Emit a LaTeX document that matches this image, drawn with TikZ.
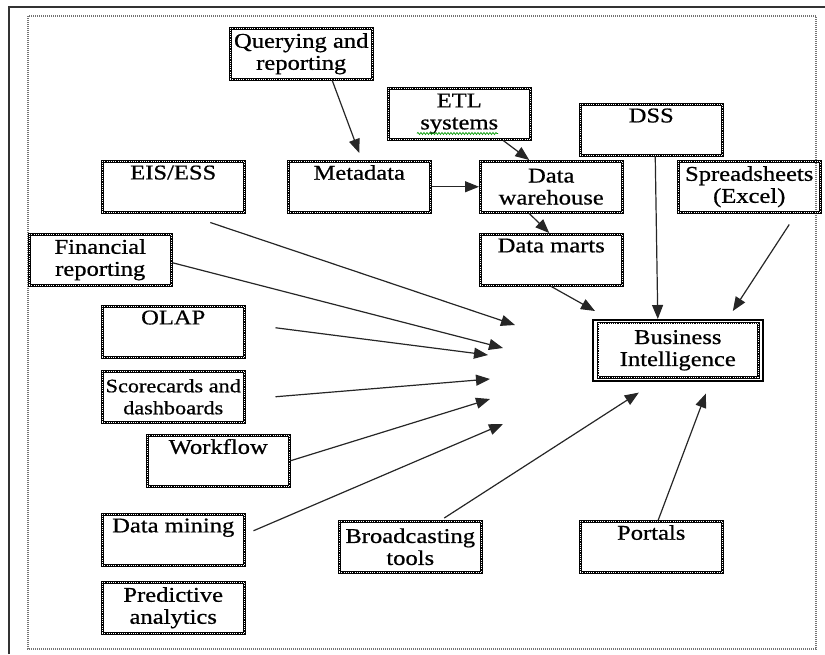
\documentclass[tikz,border=0pt]{standalone}
\usepackage{fontspec}
\setmainfont{Liberation Serif}[FakeStretch=1.17,FakeBold=0.7]
\usetikzlibrary{arrows.meta,decorations.pathmorphing}
\begin{document}
\begin{tikzpicture}[x=1pt,y=-1pt,
  box/.style={draw=black, line width=2.5pt, minimum width=142pt, minimum height=51pt,
    inner sep=0pt, anchor=north west, align=center, text=black,
    font=\fontsize{21}{22}\selectfont,
    postaction={draw=white, line width=0.5pt, dash pattern=on 0.6pt off 1.6pt}},
  arr/.style={-{Triangle[length=14pt,width=11pt]}, line width=1.2pt, draw=black!85},
  frameline/.style={line width=2pt, draw=black!80},
  dotframe/.style={line width=1.2pt, draw=black!55, dash pattern=on 1pt off 1pt},
  squiggle/.style={draw=green!60!black, line width=0.7pt, decorate,
    decoration={snake, amplitude=1pt, segment length=3pt}}]
\useasboundingbox (0,0) rectangle (825,654);
% frames
\draw[frameline] (9,654) -- (9,7) -- (825,7);
\draw[dotframe] (28,16) rectangle (816,649);

% nodes
\node[box] (qr)   at (229,27)  {Querying and\\reporting};
\node[box] (eis)  at (101,160) {EIS/ESS\\\strut};
\node[box] (meta) at (287,160) {Metadata\\\strut};
\node[box] (etl)  at (387,87)  {ETL\\systems};
\node[box] (dw)   at (479,160) {Data\\warehouse};
\node[box] (dm)   at (479,233) {Data marts\\\strut};
\node[box] (dss)  at (579,103) {DSS\\\strut};
\node[box] (ss)   at (677,160) {Spreadsheets\\(Excel)};
\node[box] (fin)  at (28,233)  {Financial\\reporting};
\node[box] (olap) at (101,305) {OLAP\\\strut};
\node[box, font=\fontsize{19}{22}\selectfont] (sc) at (101,370) {Scorecards and\\dashboards};
\node[box] (wf)   at (146,434) {Workflow\\\strut};
\node[box] (mine) at (101,513) {Data mining\\\strut};
\node[box] (pred) at (101,581) {Predictive\\analytics};
\node[box] (bc)   at (338,520) {Broadcasting\\tools};
\node[box] (por)  at (579,520) {Portals\\\strut};
\node[draw=black, line width=1.6pt, minimum width=170pt, minimum height=61pt,
      inner sep=0pt, anchor=north west, align=center,
      font=\fontsize{21}{22}\selectfont] (bi) at (592,319) {Business\\Intelligence};
\draw[line width=2.5pt, postaction={draw=white, line width=0.5pt, dash pattern=on 0.6pt off 1.6pt}]
  ([shift={(6,4)}]bi.north west) rectangle ([shift={(-5,-4)}]bi.south east);

% spell-check squiggle
\draw[squiggle] ([shift={(30,-7)}]etl.south west) -- ([shift={(111,-7)}]etl.south west);

% fan-in end points
\coordinate (f1) at (515,325);
\coordinate (f2) at (503,348);
\coordinate (f3) at (488,355);
\coordinate (f4) at (490,379);
\coordinate (f5) at (490,399);
\coordinate (f6) at (503,424);

% connectors
\draw[arr] ([xshift=31pt]qr.south) -- ([yshift=7pt]meta.north);
\draw[arr] (meta) -- (dw);
\draw[arr] ([xshift=44pt]etl.south) -- ([xshift=-22pt]dw.north);
\draw[arr] ([xshift=-22pt]dw.south) -- ([xshift=-2pt]dm.north);
\draw[arr] (dm.south) -- ([shift={(3pt,8pt)}]bi.north west);
\draw[arr] ([xshift=4pt]dss.south) -- ([xshift=-20pt]bi.north);
\draw[arr] ([shift={(40pt,-11pt)}]ss.south) -- ([shift={(55pt,8pt)}]bi.north);

\draw[arr] ([shift={(37pt,-9pt)}]eis.south) -- (f1);
\draw[arr] ([yshift=-3pt]fin.east) -- (f2);
\draw[arr] ([shift={(30pt,4pt)}]olap.east) -- (f3);
\draw[arr] ([xshift=30pt]sc.east) -- (f4);
\draw[arr] (wf.east) -- (f5);
\draw[arr] ([shift={(8pt,9pt)}]mine.east) -- (f6);

\draw[arr] ([shift={(34pt,2pt)}]bc.north) -- ([shift={(-39pt,-11pt)}]bi.south);
\draw[arr] ([xshift=7pt]por.north) -- ([shift={(28pt,-12pt)}]bi.south);
\end{tikzpicture}
\end{document}
